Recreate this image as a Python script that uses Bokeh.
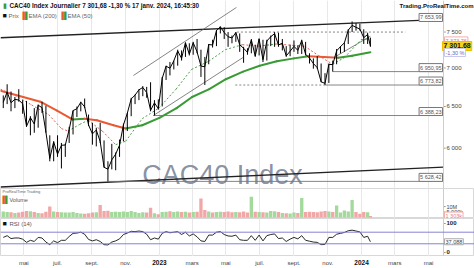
import pandas as pd
from bokeh.plotting import figure
from bokeh.models import Range1d, FixedTicker, Label, Span, ColumnDataSource
from bokeh.layouts import column
from bokeh.embed import file_html
from bokeh.resources import INLINE
from bokeh.core.properties import value

FONT = "Liberation Sans"

# ---------------- data ----------------
week_dates = [d.strftime("%Y-%m-%d") for d in pd.date_range("2022-03-25", "2024-01-12", freq="W-FRI")] + ["2024-01-17"]

close = [6553, 6684, 6548, 6590, 6581, 6534, 6258, 6362, 6285, 6516, 6485, 6187, 5882, 6073,
         5931, 6033, 6036, 6217, 6449, 6472, 6554, 6495, 6274, 6167, 6212, 6077, 5783, 5762,
         5866, 5932, 6035, 6273, 6416, 6595, 6644, 6712, 6742, 6677, 6452, 6545, 6474,
         6861, 7024, 6996, 7097, 7233, 7130, 7348, 7187, 7348, 7220, 7026, 7015, 7322,
         7316, 7520, 7577, 7492, 7433, 7415, 7492, 7319, 7270, 7213, 7388, 7163, 7400,
         7112, 7372, 7433, 7477, 7316, 7341, 7164, 7229, 7296, 7241, 7379, 7185, 7135,
         7060, 7004, 6816, 6795, 7048, 7045, 7234, 7293, 7346, 7527, 7597, 7569, 7543,
         7420, 7465, 7302]
high = [6640, 6784, 6690, 6620, 6720, 6580, 6570, 6380, 6480, 6525, 6560, 6510, 6150, 6080,
        6150, 6060, 6050, 6250, 6450, 6500, 6560, 6600, 6400, 6300, 6240, 6300, 6090, 5850,
        6050, 5950, 6100, 6290, 6420, 6610, 6650, 6720, 6760, 6750, 6810, 6580, 6590,
        6880, 7030, 7080, 7100, 7250, 7240, 7350, 7340, 7360, 7400, 7250, 7150, 7330,
        7390, 7530, 7581, 7570, 7500, 7450, 7500, 7480, 7290, 7270, 7400, 7320, 7410,
        7390, 7390, 7450, 7500, 7490, 7400, 7300, 7320, 7380, 7310, 7390, 7360, 7200,
        7130, 7160, 7060, 6930, 7060, 7100, 7260, 7300, 7350, 7540, 7654, 7630, 7620,
        7540, 7490, 7420]
low = [6480, 6530, 6440, 6480, 6560, 6410, 6250, 6150, 6180, 6240, 6420, 6180, 5850, 5850,
       5900, 5770, 5900, 6060, 6160, 6370, 6440, 6480, 6260, 6040, 6020, 6060, 5780, 5628,
       5760, 5750, 5900, 6080, 6200, 6380, 6530, 6580, 6630, 6610, 6440, 6388, 6460,
       6500, 6840, 6900, 6980, 7030, 7100, 7150, 7170, 7180, 7200, 6880, 6774, 7050,
       7280, 7300, 7480, 7400, 7290, 7340, 7360, 7220, 7070, 7180, 7200, 7150, 7170,
       7080, 7100, 7300, 7290, 7290, 7240, 7150, 7160, 7220, 7190, 7190, 7170, 7060,
       6990, 6990, 6810, 6774, 6800, 6951, 7050, 7200, 7220, 7330, 7500, 7520, 7520,
       7330, 7330, 7290]
volume_m = [5.5, 5.0, 4.8, 4.2, 4.6, 5.2, 6.0, 5.8, 5.0, 4.2, 4.0, 5.2, 10.0, 5.5,
            5.0, 4.8, 4.5, 4.6, 5.0, 4.2, 3.6, 3.5, 3.8, 4.5, 4.8, 11.5, 6.0, 6.2,
            5.0, 5.2, 5.0, 5.5, 5.0, 6.0, 5.0, 4.2, 4.8, 4.5, 9.0, 4.0, 3.0,
            5.0, 5.2, 5.8, 5.0, 5.5, 5.0, 5.2, 4.6, 5.0, 5.4, 17.5, 7.0, 5.5,
            4.5, 5.0, 5.2, 5.0, 5.5, 4.8, 5.0, 4.8, 5.5, 4.6, 19.0, 5.2, 5.0,
            4.8, 4.5, 6.0, 5.8, 5.0, 4.2, 3.8, 3.6, 4.5, 4.2, 18.0, 5.0, 5.2,
            5.0, 4.8, 5.5, 6.0, 5.5, 5.0, 11.0, 4.5, 6.5, 5.5, 16.0, 5.0, 3.5,
            5.0, 4.8, 1.3]
rsi = [52, 58, 48, 50, 50, 46, 35, 42, 38, 52, 50, 36, 27, 40,
       34, 42, 42, 55, 66, 67, 70, 63, 45, 40, 44, 38, 27, 26,
       36, 40, 47, 62, 67, 73, 72, 74, 72, 63, 44, 50, 46,
       66, 72, 68, 70, 72, 62, 70, 57, 64, 54, 40, 38, 60,
       60, 70, 72, 62, 57, 56, 60, 44, 42, 42, 58, 42, 60,
       40, 58, 62, 64, 48, 50, 38, 46, 52, 47, 58, 42, 39,
       36, 35, 27, 28, 52, 52, 63, 66, 69, 75, 77, 74, 71,
       52, 56, 37]

ema200_dates = ["2022-03-20", "2022-04-30", "2022-05-31", "2022-06-30", "2022-07-28", "2022-08-19",
                "2022-09-10", "2022-10-10", "2022-11-01", "2022-12-01", "2023-01-01", "2023-02-01",
                "2023-03-01", "2023-04-01", "2023-05-01", "2023-06-01", "2023-07-01", "2023-08-01",
                "2023-09-01", "2023-09-27", "2023-10-25", "2023-11-20", "2023-12-15", "2024-01-17"]
ema200 = [6700, 6620, 6560, 6450, 6340, 6350, 6330, 6270, 6230, 6270, 6360, 6480,
          6620, 6720, 6850, 6950, 7030, 7090, 7130, 7160, 7148, 7140, 7165, 7215]

ema50_dates = ["2022-03-20", "2022-04-15", "2022-05-15", "2022-06-15", "2022-07-08", "2022-07-20",
               "2022-08-10", "2022-08-25", "2022-09-20", "2022-10-14", "2022-11-01", "2022-12-01",
               "2022-12-31", "2023-01-31", "2023-02-28", "2023-03-31", "2023-04-30", "2023-05-31",
               "2023-06-30", "2023-07-31", "2023-08-31", "2023-09-20", "2023-10-15", "2023-11-10",
               "2023-12-01", "2023-12-31", "2024-01-12", "2024-01-17"]
ema50 = [6720, 6640, 6520, 6400, 6230, 6200, 6280, 6330, 6200, 6040, 6080, 6350,
         6480, 6720, 6980, 7090, 7250, 7320, 7300, 7330, 7310, 7300, 7170, 7050,
         7140, 7390, 7400, 7374]

# drawn trend lines (date, price) -> (date, price)
trend_black = [("2022-03-20", 7418, "2024-05-28", 7686),
               ("2022-03-20", 5568, "2024-05-28", 5786)]
trend_thin = [("2022-11-15", 6899, "2023-05-20", 7863),
              ("2022-12-21", 6388, "2023-06-01", 7142),
              ("2023-11-14", 7150, "2024-01-17", 7440)]
level_solid = [("2023-11-10", 6950.95), ("2023-10-27", 6773.82),
               ("2022-12-21", 6388.23), ("2022-09-29", 5628.42)]
level_dotted = [("2023-05-21", "2024-03-20", 7500), ("2023-05-18", "2023-10-27", 6773.82)]
level_boxes = [(7653.99, "7 653,99"), (6950.95, "6 950,95"), (6773.82, "6 773,82"),
               (6388.23, "6 388,23"), (5628.42, "5 628,42")]

month_ticks = ["2022-05-01", "2022-07-01", "2022-09-01", "2022-11-01", "2023-01-01", "2023-03-01",
               "2023-05-01", "2023-07-01", "2023-09-01", "2023-11-01", "2024-01-01", "2024-03-01",
               "2024-05-01"]
month_labels = ["mai", "juil.", "sept.", "nov.", "2023", "mars", "mai", "juil.", "sept.", "nov.",
                "2024", "mars", "mai"]
price_ticks = [6000, 6500, 7000, 7500]
price_labels = ["6 000", "6 500", "7 000", "7 500"]
vol_ticks = [5e6, 1e7]
vol_labels = ["5 000k", "10M"]
rsi_ticks = [0, 100]
rsi_tick_labels = ["0", "100"]
rsi_levels = [70, 30]

last_price, last_change, last_ema50 = 7301.68, "-1,30 %", 7373.76
last_volume, last_rsi = 1.303e6, 37.088

# ---------------- helpers ----------------
DAY = 86400000
def ms(d):
    return pd.Timestamp(d).value // 10**6

dates = pd.to_datetime(week_dates)
tick_ms = [ms(d) for d in month_ticks]
X_END = "2024-05-28"              # right edge of the price area
xr = Range1d(pd.Timestamp("2022-03-20"), pd.Timestamp("2024-07-23"))


def make_fig(height, y_range, y_type="linear"):
    f = figure(width=474, height=height, x_axis_type="datetime", y_axis_type=y_type,
               x_range=xr, y_range=y_range, toolbar_location=None, output_backend="svg",
               x_axis_location=None, y_axis_location=None,
               min_border_left=0, min_border_right=0, min_border_top=0, min_border_bottom=0)
    f.outline_line_color = None
    f.background_fill_color = "white"
    f.border_fill_color = "white"
    f.xgrid.ticker = FixedTicker(ticks=tick_ms)
    f.xgrid.grid_line_color = "#e8e8e8"
    f.ygrid.visible = False
    return f


def lab(f, text, x, y, size="6px", color="#555555", style="normal", align="left",
        baseline="middle", xu="screen", yu="screen", **kw):
    f.add_layout(Label(x=x, y=y, x_units=xu, y_units=yu, text=text, text_font=FONT,
                       text_font_size=size, text_color=color, text_font_style=style,
                       text_align=align, text_baseline=baseline, **kw))


def box(f, text, y, x=444, color="#555555", border="#aaaaaa", bg="white", size="5.5px",
        style="normal", align="left", baseline="middle", yu="data"):
    f.add_layout(Label(x=x, y=y, x_units="screen", y_units=yu, text=text, text_font=FONT,
                       text_font_size=size, text_color=color, text_font_style=style,
                       text_align=align, text_baseline=baseline, background_fill_color=bg,
                       border_line_color=border, padding=1))


def side_axis(f, ticks, labels, size="6px", color="#444444", style="normal"):
    f.segment(x0=[pd.Timestamp(X_END)] * len(ticks), y0=ticks,
              x1=[pd.Timestamp(X_END) + pd.Timedelta(days=4)] * len(ticks), y1=ticks,
              line_color="#999999", line_width=1)
    for t, s in zip(ticks, labels):
        lab(f, s, 446, t, size=size, color=color, style=style, yu="data")


def separator(f):
    f.add_layout(Span(location=ms(X_END), dimension="height", line_color="#cccccc", line_width=1))


def slope_segments(ds, vals):
    x0, y0, x1, y1, cols = [], [], [], [], []
    for i in range(len(vals) - 1):
        x0.append(pd.Timestamp(ds[i])); x1.append(pd.Timestamp(ds[i + 1]))
        y0.append(vals[i]); y1.append(vals[i + 1])
        cols.append("up" if vals[i + 1] >= vals[i] else "down")
    return x0, y0, x1, y1, cols

# ---------------- main price panel ----------------
p1 = make_fig(188, Range1d(5552, 7969), "log")
separator(p1)

p1.add_layout(Label(x=222, y=14, x_units="screen", y_units="screen", text="CAC40 Index",
                    text_font=FONT, text_font_size="27px", text_color="#7b8499",
                    text_alpha=0.9, text_align="center", text_baseline="middle",
                    level="underlay"))

for a, b, c, d in trend_black:
    p1.segment(x0=[pd.Timestamp(a)], y0=[b], x1=[pd.Timestamp(c)], y1=[d],
               line_color="#222222", line_width=1.3)
for a, b, c, d in trend_thin:
    p1.segment(x0=[pd.Timestamp(a)], y0=[b], x1=[pd.Timestamp(c)], y1=[d],
               line_color="#666666", line_width=0.8)
for a, v in level_solid:
    p1.segment(x0=[pd.Timestamp(a)], y0=[v], x1=[pd.Timestamp(X_END)], y1=[v],
               line_color="#777777", line_width=0.9)
for a, b, v in level_dotted:
    p1.segment(x0=[pd.Timestamp(a)], y0=[v], x1=[pd.Timestamp(b)], y1=[v],
               line_color="#777777", line_width=0.9, line_dash="2 2")

x0, y0, x1, y1, cols = slope_segments(ema200_dates, ema200)
p1.segment(x0=x0, y0=y0, x1=x1, y1=y1, line_width=2, line_cap="round",
           line_color=[("#3a9a35" if c == "up" else "#ea5a32") for c in cols])
x0, y0, x1, y1, cols = slope_segments(ema50_dates, ema50)
p1.segment(x0=x0, y0=y0, x1=x1, y1=y1, line_width=1, line_dash="2 2",
           line_color=[("#4f9f4a" if c == "up" else "#e0605a") for c in cols])

p1.segment(x0=dates, y0=low, x1=dates, y1=high, line_color="black", line_width=1)
p1.line(dates, close, line_color="black", line_width=1)

side_axis(p1, price_ticks, price_labels)

lab(p1, "▮", 2, 183, size="7px", color="#3c9a3c")
lab(p1, "CAC40 Index Journalier 7 301,68 -1,30 % 17 janv. 2024, 16:45:30", 9, 183,
    size="6.3px", color="#111111", style="bold")
lab(p1, "Trading.ProRealTime.com", 473, 183, size="6px", color="#111111", style="bold",
    align="right")
lab(p1, "■", 2, 173, size="7px", color="#111111")
lab(p1, "Prix", 8, 173, color="#666666")
lab(p1, "▌", 22, 173, size="7px", color="#ea5a32")
lab(p1, "▐", 22, 173, size="7px", color="#3a9a35")
lab(p1, "EMA (200)", 28, 173, color="#666666")
lab(p1, "▌", 61, 173, size="7px", color="#ea5a32")
lab(p1, "▐", 61, 173, size="7px", color="#3a9a35")
lab(p1, "EMA (50)", 67, 173, color="#666666")

for v, t in level_boxes:
    box(p1, t, v, x=442, color="#555555", border="#777777", align="right", baseline="bottom")

box(p1, "7 373,76", last_ema50, color="#e07a7a", border="#f0b0b0")
box(p1, "7 301,68", last_price, x=442, color="#111111", border="#e8c000", bg="#f6d21e",
    size="7px", style="bold")
box(p1, last_change, 188 - 52, color="#6a6ac8", border="#c8c8e8", yu="screen")

# ---------------- volume panel ----------------
p2 = make_fig(30, Range1d(-0.9e6, 26.6e6))
p2.outline_line_color = "#d8d8d8"
separator(p2)
vol = [v * 1e6 for v in volume_m]
vcols = ["#a3da9c" if (i == 0 or close[i] >= close[i - 1]) else "#f2a7a7" for i in range(len(close))]
p2.vbar(x=dates, top=vol, bottom=0, width=6 * DAY, fill_color=vcols, line_color=None)
side_axis(p2, vol_ticks, vol_labels, size="5.5px")
lab(p2, "ProRealTime Trading", 2, 27, size="4px", color="#666666")
lab(p2, "▌", 2, 19, size="7px", color="#ea5a32")
lab(p2, "▐", 2, 19, size="7px", color="#3a9a35")
lab(p2, "Volume", 9, 19, size="5.5px", color="#555555", background_fill_color="white")
box(p2, "1 303k", last_volume, color="#e07a7a", border="#f0b0b0")

# ---------------- RSI panel ----------------
p3 = make_fig(38, Range1d(-13.8, 117.2))
p3.outline_line_color = "#d8d8d8"
separator(p3)
for lv in rsi_levels:
    p3.add_layout(Span(location=lv, dimension="width", line_color="#8585d0", line_width=1))
p3.line(dates, rsi, line_color="#111111", line_width=0.9)
side_axis(p3, rsi_ticks, rsi_tick_labels, size="6px", color="#222222", style="bold")
lab(p3, "■", 2, 33, size="7px", color="#111111")
lab(p3, "RSI (14)", 9, 33, size="6px", color="#555555")
box(p3, "37,088", last_rsi, color="#444444", border="#aaaaaa")

# ---------------- date labels ----------------
p4 = make_fig(12, Range1d(0, 1))
p4.xgrid.visible = False
src = ColumnDataSource(dict(
    x=[pd.Timestamp(d) for d in month_ticks],
    y=[0.5] * len(month_ticks),
    text=month_labels,
    style=["bold" if s.isdigit() else "normal" for s in month_labels],
    color=["#111111" if s.isdigit() else "#444444" for s in month_labels],
    size=["6.5px" if s.isdigit() else "6px" for s in month_labels],
))
p4.text(x="x", y="y", text="text", source=src, text_font=value(FONT),
        text_font_style="style", text_color="color", text_font_size="size",
        text_align="center", text_baseline="middle")

layout = column(p1, p2, p3, p4, spacing=0)
open("out.html", "w").write(file_html(layout, INLINE))
